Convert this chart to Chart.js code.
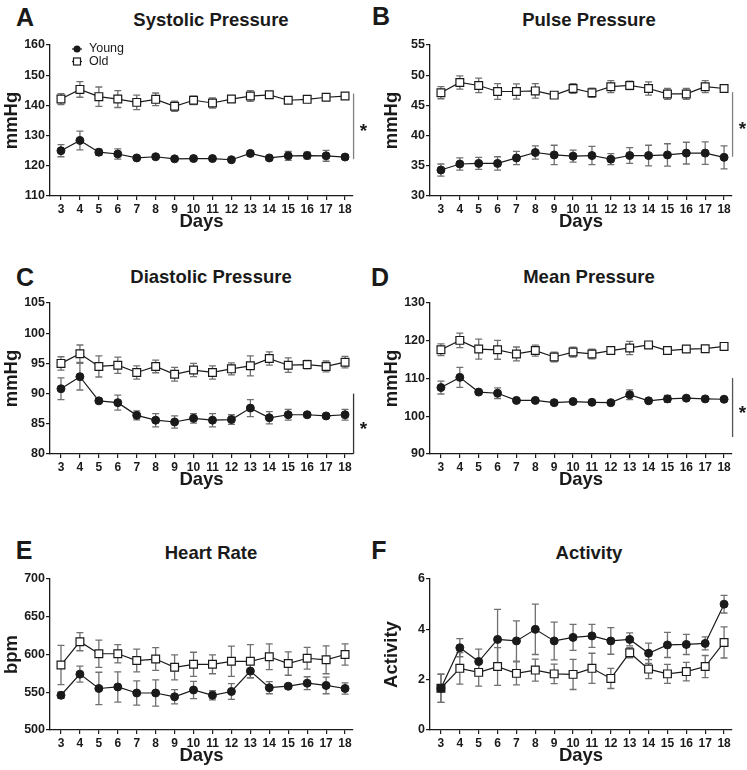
<!DOCTYPE html>
<html>
<head>
<meta charset="utf-8">
<script src="https://cdn.jsdelivr.net/npm/chart.js@4.4.0/dist/chart.umd.min.js"></script>
<style>
    body { margin: 0; width: 747px; height: 770px; overflow: hidden; background: #fff; position: relative;
           font-family: "Liberation Sans", Arial, sans-serif; color: #1a1a1a; }
    canvas { position: absolute; }
    .letter, .title { position: absolute; font-weight: bold; line-height: 1; white-space: nowrap;
                      transform: translate(-50%, -50%); }
    .letter { font-size: 25px; }
    .title { font-size: 18.5px; }
</style>
</head>
<body>
<div class="letter" style="left:25px;top:17px">A</div>
<div class="letter" style="left:381px;top:16px">B</div>
<div class="letter" style="left:25px;top:277px">C</div>
<div class="letter" style="left:380px;top:277px">D</div>
<div class="letter" style="left:24px;top:550px">E</div>
<div class="letter" style="left:379px;top:550px">F</div>

<div class="title" style="left:211px;top:20px">Systolic Pressure</div>
<div class="title" style="left:589px;top:20px">Pulse Pressure</div>
<div class="title" style="left:211px;top:277px">Diastolic Pressure</div>
<div class="title" style="left:589px;top:277px">Mean Pressure</div>
<div class="title" style="left:211px;top:553px">Heart Rate</div>
<div class="title" style="left:589px;top:553px">Activity</div>

<canvas id="chartA" width="372" height="250" style="left:0;top:0"></canvas>
<canvas id="chartB" width="367" height="250" style="left:380px;top:0"></canvas>
<canvas id="chartC" width="372" height="250" style="left:0;top:258px"></canvas>
<canvas id="chartD" width="367" height="250" style="left:380px;top:258px"></canvas>
<canvas id="chartE" width="372" height="250" style="left:0;top:534px"></canvas>
<canvas id="chartF" width="367" height="250" style="left:380px;top:534px"></canvas>

<script>
const days = [3, 4, 5, 6, 7, 8, 9, 10, 11, 12, 13, 14, 15, 16, 17, 18];

// systolic
const sysYoung = [125.0, 128.4, 124.5, 123.9, 122.6, 123.0, 122.3, 122.4, 122.4, 122.0, 124.1, 122.6, 123.3, 123.4, 123.3, 122.9];
const sysYoungSem = [2.0, 3.1, 1.0, 1.7, 0.5, 0.4, 0.3, 0.3, 0.3, 0.3, 0.8, 0.8, 1.5, 1.1, 1.8, 0.8];
const sysOld = [142.1, 145.3, 142.9, 142.1, 141.0, 142.0, 139.7, 141.7, 140.8, 142.1, 143.1, 143.5, 141.7, 142.0, 142.7, 143.1];
const sysOldSem = [1.8, 2.6, 3.2, 2.8, 2.4, 2.1, 1.7, 1.4, 1.7, 0.8, 1.8, 0.8, 0.6, 0.4, 0.6, 0.4];

// pulse
const pulseYoung = [34.3, 35.3, 35.4, 35.4, 36.3, 37.2, 36.8, 36.6, 36.7, 36.1, 36.7, 36.7, 36.8, 37.1, 37.1, 36.4];
const pulseYoungSem = [1.0, 1.0, 1.0, 1.1, 1.1, 1.1, 1.6, 1.0, 1.5, 0.9, 1.3, 1.7, 1.85, 1.8, 1.85, 1.9];
const pulseOld = [47.1, 48.8, 48.3, 47.3, 47.3, 47.4, 46.7, 47.8, 47.1, 48.1, 48.3, 47.8, 46.9, 46.9, 48.1, 47.8];
const pulseOldSem = [1.0, 1.1, 1.2, 1.3, 1.25, 1.2, 0.5, 0.8, 0.75, 1.0, 0.7, 1.1, 0.9, 0.9, 1.0, 0.3];

// diastolic
const diaYoung = [90.8, 92.8, 88.8, 88.5, 86.4, 85.6, 85.3, 85.9, 85.6, 85.7, 87.6, 86.0, 86.5, 86.5, 86.3, 86.5];
const diaYoungSem = [1.8, 2.2, 0.3, 1.25, 0.75, 1.1, 1.0, 0.8, 1.1, 0.8, 1.4, 1.0, 0.9, 0.3, 0.3, 0.9];
const diaOld = [95.0, 96.6, 94.5, 94.7, 93.5, 94.5, 93.2, 93.9, 93.5, 94.1, 94.6, 95.8, 94.7, 94.8, 94.5, 95.2];
const diaOldSem = [1.1, 1.45, 1.75, 1.35, 1.1, 1.05, 1.15, 1.1, 1.1, 1.0, 1.65, 1.1, 1.2, 0.7, 0.9, 0.95];

// mean
const meanYoung = [107.6, 110.3, 106.4, 106.1, 104.2, 104.2, 103.6, 103.9, 103.7, 103.6, 105.7, 104.1, 104.6, 104.8, 104.6, 104.5];
const meanYoungSem = [1.7, 2.65, 0.3, 1.4, 0.3, 0.3, 0.3, 0.3, 0.3, 0.3, 1.3, 0.3, 0.9, 0.4, 0.4, 0.4];
const meanOld = [117.6, 120.1, 117.8, 117.6, 116.5, 117.4, 115.7, 117.0, 116.5, 117.4, 118.1, 118.9, 117.4, 117.8, 117.9, 118.5];
const meanOldSem = [1.55, 1.9, 2.65, 2.5, 1.85, 1.45, 1.3, 1.3, 1.3, 0.8, 1.75, 0.8, 0.9, 0.4, 0.65, 0.7];

// heart rate
const hrYoung = [546, 574, 555, 557, 549, 549, 544, 553, 546, 551, 578, 556, 558, 562, 559, 555];
const hrYoungSem = [4, 10.5, 21.5, 20, 16, 17.5, 9.5, 11.5, 6, 10.5, 9, 8, 3, 8.5, 11, 7.5];
const hrOld = [586, 617, 601, 601, 592, 594, 583, 587, 587, 591, 591, 597, 588, 595, 593, 600];
const hrOldSem = [26, 12, 18, 12, 15, 15, 16.5, 16, 12.5, 20, 22, 17, 15.5, 14.5, 18.5, 14];

// activity
const actYoung = [1.66, 3.27, 2.72, 3.60, 3.54, 4.0, 3.54, 3.68, 3.74, 3.54, 3.60, 3.05, 3.38, 3.40, 3.44, 5.0];
const actYoungSem = [0.56, 0.36, 0.49, 1.19, 0.8, 1.0, 0.75, 0.52, 0.46, 0.53, 0.26, 0.4, 0.5, 0.4, 0.26, 0.35];
const actOld = [1.66, 2.45, 2.29, 2.52, 2.25, 2.38, 2.23, 2.21, 2.45, 2.05, 3.07, 2.42, 2.23, 2.32, 2.52, 3.48];
const actOldSem = [0.56, 0.63, 0.55, 0.75, 0.46, 0.44, 0.39, 0.6, 0.6, 0.4, 0.2, 0.38, 0.38, 0.37, 0.44, 0.62];

// significance brackets (top, bottom) in axis units
const sysSig = [143.9, 122.2];
const pulseSig = [47.2, 36.5];
const diaSig = [90.0, 80.0];
const meanSig = [110.1, 94.5];

const groups = ['Young', 'Old'];

Chart.defaults.font.family = '"Liberation Sans", Arial, sans-serif';
Chart.defaults.color = '#1a1a1a';

// gray SEM bars under the lines
const errorBars = {
    id: 'errorBars',
    beforeDatasetsDraw(chart) {
        const ctx = chart.ctx;
        const x = chart.scales.x, y = chart.scales.y;
        ctx.save();
        ctx.strokeStyle = '#707070';
        ctx.lineWidth = 1.3;
        chart.data.datasets.forEach(ds => {
            ds.data.forEach((p, i) => {
                const px = x.getPixelForValue(p.x);
                const top = y.getPixelForValue(p.y + ds.sem[i]);
                const bot = y.getPixelForValue(p.y - ds.sem[i]);
                ctx.beginPath();
                ctx.moveTo(px, top); ctx.lineTo(px, bot);
                ctx.moveTo(px - 3.5, top); ctx.lineTo(px + 3.5, top);
                ctx.moveTo(px - 3.5, bot); ctx.lineTo(px + 3.5, bot);
                ctx.stroke();
            });
        });
        ctx.restore();
    }
};

const sigBar = {
    id: 'sigBar',
    afterDatasetsDraw(chart, args, opts) {
        if (!opts.range) return;
        const ctx = chart.ctx;
        const px = chart.scales.x.getPixelForValue(18.45);
        const y1 = chart.scales.y.getPixelForValue(opts.range[0]);
        const y2 = chart.scales.y.getPixelForValue(opts.range[1]);
        ctx.save();
        ctx.strokeStyle = opts.color || '#808080';
        ctx.lineWidth = 1.3;
        ctx.beginPath();
        ctx.moveTo(px, y1); ctx.lineTo(px, y2);
        ctx.stroke();
        ctx.fillStyle = '#1a1a1a';
        ctx.font = 'bold 19px "Liberation Sans", Arial, sans-serif';
        ctx.textAlign = 'center';
        ctx.textBaseline = 'alphabetic';
        ctx.fillText('*', px + 10, (y1 + y2) / 2 + 11);
        ctx.restore();
    }
};

// legend only on panel A
const insideLegend = {
    id: 'insideLegend',
    afterDatasetsDraw(chart, args, opts) {
        if (!opts.show) return;
        const ctx = chart.ctx;
        const area = chart.chartArea;
        ctx.save();
        ctx.font = '12.5px "Liberation Sans", Arial, sans-serif';
        ctx.textBaseline = 'middle';
        ctx.fillStyle = '#1a1a1a';
        const rows = [chart.data.datasets[1], chart.data.datasets[0]];
        rows.forEach((ds, i) => {
            const cx = area.left + 27;
            const cy = area.top + 4 + i * 12.5;
            ctx.strokeStyle = '#1a1a1a';
            ctx.lineWidth = 1.2;
            ctx.beginPath();
            ctx.moveTo(cx - 5, cy); ctx.lineTo(cx + 5, cy);
            ctx.stroke();
            if (ds.pointStyle === 'circle') {
                ctx.fillStyle = '#1a1a1a';
                ctx.beginPath();
                ctx.arc(cx, cy, 3.5, 0, Math.PI * 2);
                ctx.fill();
            } else {
                ctx.fillStyle = '#fff';
                ctx.fillRect(cx - 3.5, cy - 3.5, 7, 7);
                ctx.strokeRect(cx - 3.5, cy - 3.5, 7, 7);
            }
            ctx.fillStyle = '#1a1a1a';
            ctx.fillText(ds.label, cx + 12, cy);
        });
        ctx.restore();
    }
};

function series(vals) {
    return days.map((d, i) => ({ x: d, y: vals[i] }));
}

function makePanel(id, yTitle, young, youngSem, old, oldSem, yMin, yMax, yStep, rightPad, extra) {
    const ctx = document.getElementById(id).getContext('2d');
    return new Chart(ctx, {
        type: 'scatter',
        data: {
            datasets: [{
                label: groups[1],
                data: series(old),
                sem: oldSem,
                showLine: true,
                borderColor: '#1a1a1a',
                borderWidth: 1.2,
                pointStyle: 'rect',
                pointRadius: 5.5,
                // where both groups sit on the same point the marker looks filled
                pointBackgroundColor: c => (old[c.dataIndex] === young[c.dataIndex] ? '#1a1a1a' : '#fff'),
                pointBorderColor: '#1a1a1a',
                pointBorderWidth: 1.2
            }, {
                label: groups[0],
                data: series(young),
                sem: youngSem,
                showLine: true,
                borderColor: '#1a1a1a',
                borderWidth: 1.2,
                pointStyle: 'circle',
                pointRadius: 4,
                pointBackgroundColor: '#1a1a1a',
                pointBorderColor: '#1a1a1a',
                pointBorderWidth: 1
            }]
        },
        options: {
            responsive: false,
            animation: false,
            layout: { padding: { top: 45, right: rightPad, left: 0, bottom: 0 } },
            plugins: {
                legend: { display: false },
                tooltip: { enabled: false },
                sigBar: extra.sig ? { range: extra.sig, color: extra.sigColor } : {},
                insideLegend: { show: !!extra.legend }
            },
            scales: {
                x: {
                    type: 'linear',
                    min: 2.42,
                    max: 18.42,
                    afterBuildTicks: scale => { scale.ticks = days.map(d => ({ value: d })); },
                    afterFit: scale => { scale.height = 54; },
                    grid: { drawOnChartArea: false, drawTicks: true, tickLength: 4, color: '#1a1a1a', lineWidth: 1.2 },
                    border: { color: '#1a1a1a', width: 1.3 },
                    ticks: { font: { size: 12, weight: 'bold' }, padding: 2, maxRotation: 0, autoSkip: false },
                    title: { display: true, text: 'Days', font: { size: 18.5, weight: 'bold' }, padding: { top: 0, bottom: 16.5 } }
                },
                y: {
                    min: yMin,
                    max: yMax,
                    ticks: { stepSize: yStep, font: { size: 12.5, weight: 'bold' }, padding: 1 },
                    afterFit: scale => { scale.width = 50; },
                    grid: { drawOnChartArea: false, drawTicks: true, tickLength: 4, color: '#1a1a1a', lineWidth: 1.2 },
                    border: { color: '#1a1a1a', width: 1.3 },
                    title: { display: true, text: yTitle, font: { size: 18.5, weight: 'bold' }, padding: { top: 1, bottom: 0 } }
                }
            }
        },
        plugins: [errorBars, sigBar, insideLegend]
    });
}

makePanel('chartA', 'mmHg', sysYoung, sysYoungSem, sysOld, sysOldSem, 110, 160, 10, 19, { sig: sysSig, legend: true });
makePanel('chartB', 'mmHg', pulseYoung, pulseYoungSem, pulseOld, pulseOldSem, 30, 55, 5, 15, { sig: pulseSig });
makePanel('chartC', 'mmHg', diaYoung, diaYoungSem, diaOld, diaOldSem, 80, 105, 5, 19, { sig: diaSig, sigColor: '#333' });
makePanel('chartD', 'mmHg', meanYoung, meanYoungSem, meanOld, meanOldSem, 90, 130, 10, 15, { sig: meanSig, sigColor: '#555' });
makePanel('chartE', 'bpm', hrYoung, hrYoungSem, hrOld, hrOldSem, 500, 700, 50, 19, {});
makePanel('chartF', 'Activity', actYoung, actYoungSem, actOld, actOldSem, 0, 6, 2, 15, {});
</script>
</body>
</html>
